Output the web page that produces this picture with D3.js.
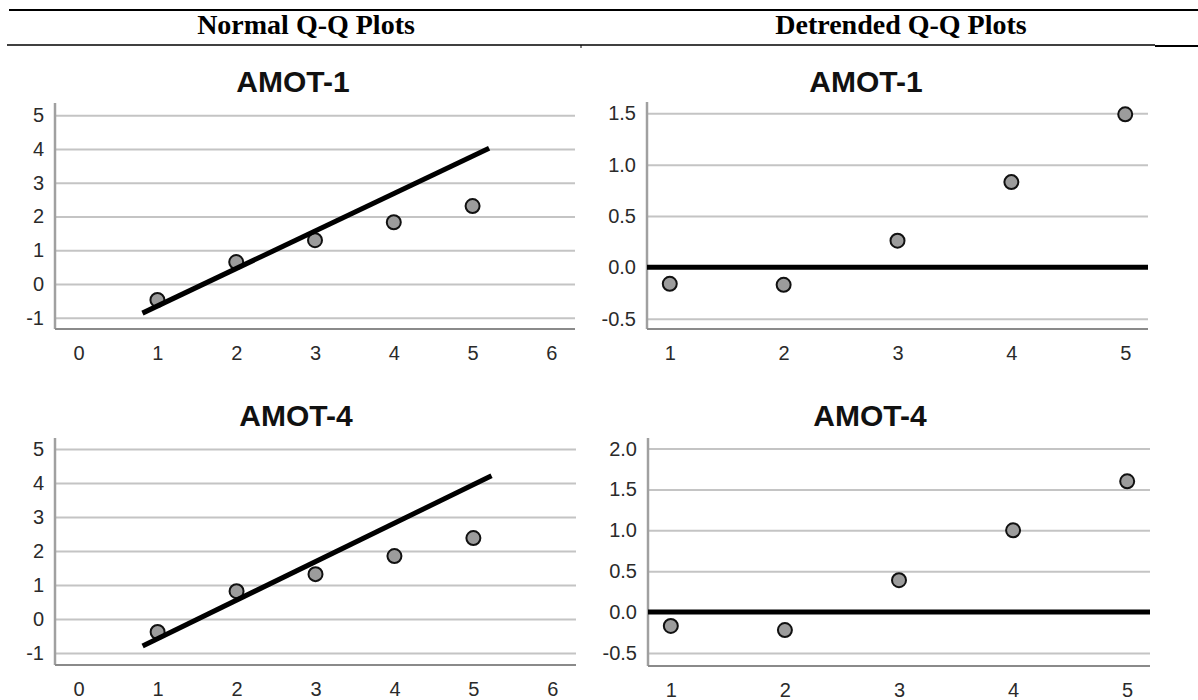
<!DOCTYPE html>
<html>
<head>
<meta charset="utf-8">
<script src="https://cdn.jsdelivr.net/npm/d3@7"></script>
<style>
  html, body { margin: 0; padding: 0; background: #fff; }
  svg { display: block; }
</style>
</head>
<body>
<svg id="chart" width="1198" height="700"></svg>
<script>
// Observed values (x for both plot types)
const observed = [1, 2, 3, 4, 5];

// Normal Q-Q: expected normal values and reference line endpoints
const amot1Expected = [-0.47, 0.65, 1.30, 1.83, 2.31];
const amot1LineX = [0.81, 5.21];
const amot1LineY = [-0.86, 4.02];
const amot4Expected = [-0.38, 0.82, 1.32, 1.85, 2.38];
const amot4LineX = [0.81, 5.23];
const amot4LineY = [-0.79, 4.21];

// Detrended Q-Q: deviation from normal
const amot1Deviation = [-0.16, -0.17, 0.26, 0.83, 1.49];
const amot4Deviation = [-0.17, -0.22, 0.39, 1.00, 1.60];

// Tick labels
const normalXTicks = [0, 1, 2, 3, 4, 5, 6];
const normalYTicks = [-1, 0, 1, 2, 3, 4, 5];
const detrendXTicks = [1, 2, 3, 4, 5];
const detrendYTicks1 = [-0.5, 0.0, 0.5, 1.0, 1.5];
const detrendYTicks4 = [-0.5, 0.0, 0.5, 1.0, 1.5, 2.0];

const headings = ["Normal Q-Q Plots", "Detrended Q-Q Plots"];
const panelTitles = ["AMOT-1", "AMOT-1", "AMOT-4", "AMOT-4"];

const svg = d3.select("#chart");

// ---- table header ----
const head = svg.append("g");
head.append("line").attr("x1", 9).attr("x2", 1198).attr("y1", 10).attr("y2", 10)
  .attr("stroke", "#000").attr("stroke-width", 2);
head.append("line").attr("x1", 7).attr("x2", 1155).attr("y1", 45).attr("y2", 45)
  .attr("stroke", "#000").attr("stroke-width", 1.5);
head.append("line").attr("x1", 1155).attr("x2", 1198).attr("y1", 46).attr("y2", 46)
  .attr("stroke", "#000").attr("stroke-width", 2.2);
head.append("line").attr("x1", 581).attr("x2", 581).attr("y1", 45).attr("y2", 48)
  .attr("stroke", "#000").attr("stroke-width", 1);
head.selectAll("text.heading").data(headings).join("text")
  .attr("class", "heading")
  .attr("x", (d, i) => i === 0 ? 306 : 901)
  .attr("y", 34)
  .attr("text-anchor", "middle")
  .attr("font-family", "'Liberation Serif', 'Times New Roman', serif")
  .attr("font-weight", "bold")
  .attr("font-size", 28)
  .attr("fill", "#000")
  .text(d => d);

// ---- panel drawing ----
const fmtInt = d => String(d).replace("\u2212", "-");
const fmt1 = d => d.toFixed(1);

function drawPanel(cfg) {
  const g = svg.append("g");
  const x = d3.scaleLinear().domain(cfg.xDomain).range([cfg.left, cfg.right]);
  const y = d3.scaleLinear().domain(cfg.yDomain).range([cfg.bottom, cfg.top]);

  // title
  g.append("text")
    .attr("x", cfg.titleX).attr("y", cfg.titleY)
    .attr("text-anchor", "middle")
    .attr("font-family", "'Liberation Sans', Arial, sans-serif")
    .attr("font-weight", "bold")
    .attr("font-size", 30)
    .attr("fill", "#111")
    .text(cfg.title);

  // horizontal gridlines + y labels
  const yAxis = d3.axisLeft(y)
    .tickValues(cfg.yTicks)
    .tickFormat(cfg.yFormat)
    .tickSizeInner(-(cfg.right - cfg.left))
    .tickSizeOuter(0)
    .tickPadding(11);
  const ya = g.append("g").attr("transform", `translate(${cfg.left},0)`).call(yAxis);
  ya.select(".domain").remove();
  ya.selectAll(".tick line").attr("stroke", "#c4c4c4").attr("stroke-width", 2);
  ya.selectAll(".tick text")
    .attr("font-family", "'Liberation Sans', Arial, sans-serif")
    .attr("font-size", 20).attr("fill", "#2a2a2a");

  // x labels (no tick marks)
  const xAxis = d3.axisBottom(x)
    .tickValues(cfg.xTicks)
    .tickFormat(fmtInt)
    .tickSize(0)
    .tickPadding(cfg.xLabelPad);
  const xa = g.append("g").attr("transform", `translate(0,${cfg.bottom})`).call(xAxis);
  xa.select(".domain").remove();
  xa.selectAll(".tick text")
    .attr("font-family", "'Liberation Sans', Arial, sans-serif")
    .attr("font-size", 20).attr("fill", "#2a2a2a");

  // axis frame: left and bottom
  g.append("line").attr("x1", cfg.left).attr("x2", cfg.left)
    .attr("y1", cfg.top).attr("y2", cfg.bottom)
    .attr("stroke", "#a0a0a0").attr("stroke-width", 2.5);
  g.append("line").attr("x1", cfg.left).attr("x2", cfg.right)
    .attr("y1", cfg.bottom).attr("y2", cfg.bottom)
    .attr("stroke", "#8a8a8a").attr("stroke-width", 2);

  // points
  g.selectAll("circle").data(cfg.values).join("circle")
    .attr("cx", (d, i) => x(observed[i]))
    .attr("cy", d => y(d))
    .attr("r", 7)
    .attr("fill", "#9c9c9c")
    .attr("stroke", "#111")
    .attr("stroke-width", 2);

  // reference line (drawn over the points)
  if (cfg.lineX) {
    g.append("line")
      .attr("x1", x(cfg.lineX[0])).attr("y1", y(cfg.lineY[0]))
      .attr("x2", x(cfg.lineX[1])).attr("y2", y(cfg.lineY[1]))
      .attr("stroke", "#000").attr("stroke-width", 5);
  } else {
    g.append("line")
      .attr("x1", cfg.left).attr("x2", cfg.right)
      .attr("y1", y(0)).attr("y2", y(0))
      .attr("stroke", "#000").attr("stroke-width", 5);
  }
}

drawPanel({
  title: panelTitles[0], titleX: 293, titleY: 92,
  left: 55, right: 575, top: 103, bottom: 329,
  xDomain: [-0.3, 6.3], yDomain: [-1.33, 5.36],
  xTicks: normalXTicks, yTicks: normalYTicks, yFormat: fmtInt, xLabelPad: 17,
  values: amot1Expected, lineX: amot1LineX, lineY: amot1LineY
});
drawPanel({
  title: panelTitles[1], titleX: 866, titleY: 92,
  left: 647, right: 1148, top: 102, bottom: 329,
  xDomain: [0.8, 5.2], yDomain: [-0.6, 1.61],
  xTicks: detrendXTicks, yTicks: detrendYTicks1, yFormat: fmt1, xLabelPad: 17,
  values: amot1Deviation
});
drawPanel({
  title: panelTitles[2], titleX: 296, titleY: 426,
  left: 55, right: 576, top: 438, bottom: 665,
  xDomain: [-0.3, 6.3], yDomain: [-1.35, 5.32],
  xTicks: normalXTicks, yTicks: normalYTicks, yFormat: fmtInt, xLabelPad: 17,
  values: amot4Expected, lineX: amot4LineX, lineY: amot4LineY
});
drawPanel({
  title: panelTitles[3], titleX: 870, titleY: 426,
  left: 648, right: 1150, top: 438, bottom: 666,
  xDomain: [0.8, 5.2], yDomain: [-0.66, 2.13],
  xTicks: detrendXTicks, yTicks: detrendYTicks4, yFormat: fmt1, xLabelPad: 17,
  values: amot4Deviation
});
</script>
</body>
</html>
